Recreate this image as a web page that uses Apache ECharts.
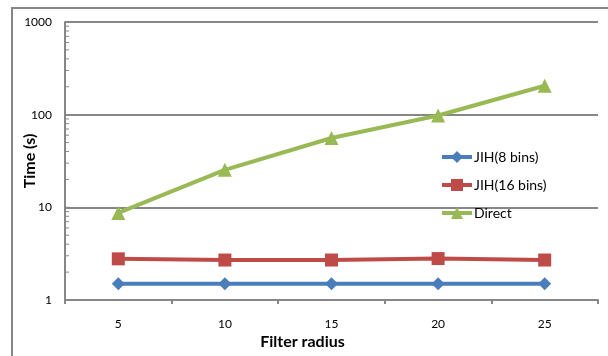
<!DOCTYPE html>
<html><head><meta charset="utf-8">
<script src="https://cdn.jsdelivr.net/npm/echarts@6/dist/echarts.min.js"></script>
<style>html,body{margin:0;padding:0;background:#fff}#c{width:608px;height:356px}</style>
</head><body><div id="c"></div>
<script>
const categories = ['5', '10', '15', '20', '25'];
const jih8 = [1.5, 1.5, 1.5, 1.5, 1.5];
const jih16 = [2.78, 2.7, 2.7, 2.8, 2.7];
const direct = [8.7, 25.4, 56, 98, 205];
const minorTickValues = [2,3,4,5,6,7,8,9,20,30,40,50,60,70,80,90,200,300,400,500,600,700,800,900];
const majorTickValues = [1, 10, 100, 1000];

const FONT = 'Lato, "Liberation Sans", sans-serif';
const GRAY = '#878787';
const chart = echarts.init(document.getElementById('c'));

function tickItem(len) {
  return function (params, api) {
    const cs = params.coordSys;
    const y = api.coord([0, api.value(1)])[1];
    return { type: 'line', shape: { x1: cs.x, y1: y, x2: cs.x + len, y2: y },
      style: { stroke: GRAY, lineWidth: 1 } };
  };
}

chart.setOption({
  animation: false,
  backgroundColor: '#fff',
  graphic: [{ type: 'rect', shape: { x: 12, y: 8, width: 640, height: 400 },
    style: { fill: 'none', stroke: GRAY, lineWidth: 2 }, silent: true }],
  grid: { left: 65, right: 10, top: 22, bottom: 56 },
  legend: {
    data: ['JIH(8 bins)', 'JIH(16 bins)', 'Direct'],
    orient: 'vertical', left: 440, top: 150, itemGap: 14, padding: 0,
    itemWidth: 30, itemHeight: 15,
    lineStyle: { width: 4 },
    textStyle: { fontFamily: FONT, fontSize: 14, color: '#000', padding: [0, 0, 0, -3] }
  },
  xAxis: {
    type: 'category', data: categories,
    name: 'Filter radius', nameLocation: 'middle', nameGap: 34, nameMoveOverlap: false,
    nameTextStyle: { fontFamily: FONT, fontSize: 16, fontWeight: 'bold', color: '#000', padding: [0, 58, 0, 0] },
    axisLine: { lineStyle: { color: GRAY, width: 2 } },
    axisTick: { show: true, length: 4, lineStyle: { color: GRAY, width: 2 } },
    axisLabel: { fontFamily: FONT, fontSize: 12, color: '#000', margin: 18 }
  },
  yAxis: {
    type: 'log', logBase: 10, min: 1, max: 1000,
    name: 'Time (s)', nameLocation: 'middle', nameGap: 27, nameMoveOverlap: false,
    nameTextStyle: { fontFamily: FONT, fontSize: 16, fontWeight: 'bold', color: '#000' },
    axisLine: { show: true, lineStyle: { color: GRAY, width: 2 } },
    axisTick: { show: false },
    axisLabel: { fontFamily: FONT, fontSize: 12, color: '#000', margin: 13,
      formatter: v => String(Math.round(v)) },
    splitLine: { show: true, lineStyle: { color: GRAY, width: 2 } }
  },
  series: [
    { name: 'minorTicks', type: 'custom', renderItem: tickItem(4), silent: true, z: 1,
      data: minorTickValues.map(v => [0, v]), encode: { x: 0, y: 1 }, clip: false },
    { name: 'majorTicks', type: 'custom', renderItem: tickItem(5), silent: true, z: 1,
      data: majorTickValues.map(v => [0, v]), encode: { x: 0, y: 1 }, clip: false },
    { name: 'JIH(8 bins)', type: 'line', data: jih8, symbol: 'diamond', symbolSize: 13,
      lineStyle: { width: 4, color: '#4a7ebb' }, itemStyle: { color: '#4a7ebb' }, z: 3 },
    { name: 'JIH(16 bins)', type: 'line', data: jih16, symbol: 'rect', symbolSize: 13,
      lineStyle: { width: 4, color: '#be4b48' }, itemStyle: { color: '#be4b48' }, z: 3 },
    { name: 'Direct', type: 'line', data: direct, symbol: 'triangle', symbolSize: 14,
      lineStyle: { width: 4, color: '#98b954' }, itemStyle: { color: '#98b954' }, z: 3 }
  ]
});
</script></body></html>
